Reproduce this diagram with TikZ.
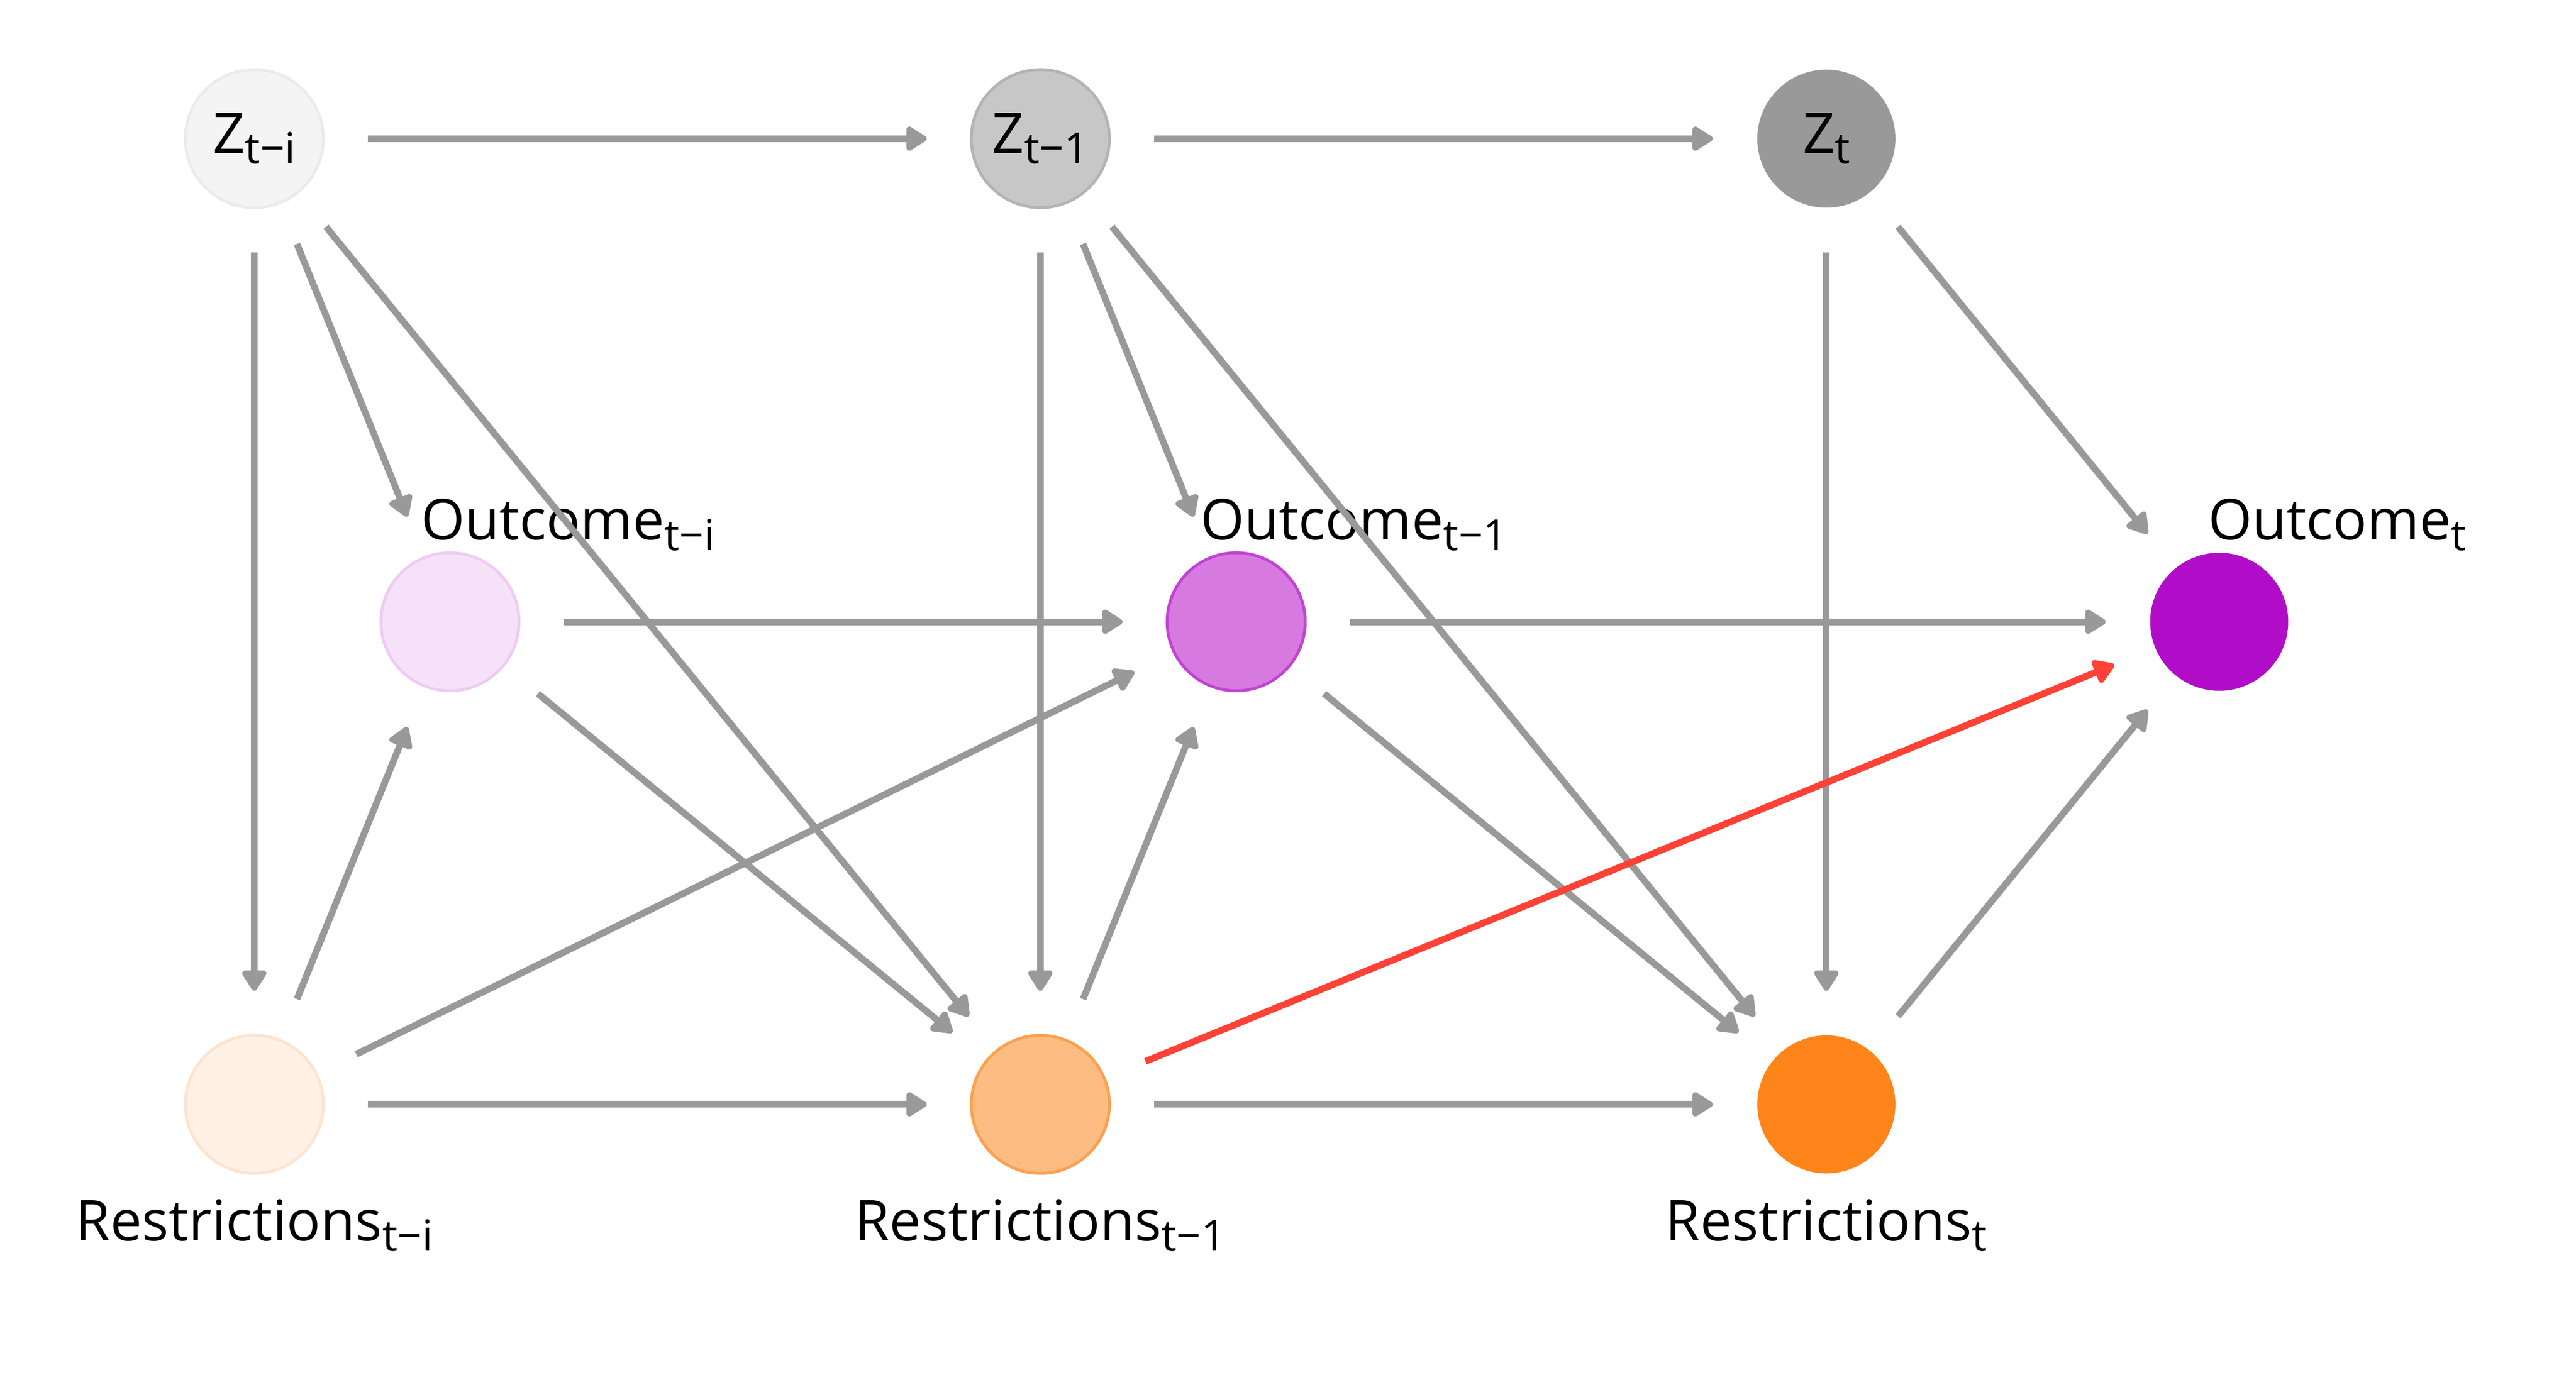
\documentclass[tikz,border=0pt]{standalone}
\usepackage{fontspec}
\setmainfont{Open Sans}
\usetikzlibrary{arrows.meta}

\definecolor{arrowgray}{HTML}{999999}
\definecolor{arrowred}{HTML}{FF4136}
\definecolor{zfill0}{HTML}{F4F4F4}
\definecolor{zdraw0}{HTML}{EBEBEB}
\definecolor{zfill1}{HTML}{C7C7C7}
\definecolor{zdraw1}{HTML}{B4B4B4}
\definecolor{zfill2}{HTML}{999999}
\definecolor{ofill0}{HTML}{F6E2F8}
\definecolor{odraw0}{HTML}{EFCBF3}
\definecolor{ofill1}{HTML}{D67AE0}
\definecolor{odraw1}{HTML}{C243D3}
\definecolor{ofill2}{HTML}{B10DC9}
\definecolor{rfill0}{HTML}{FFF1E5}
\definecolor{rdraw0}{HTML}{FEE4CE}
\definecolor{rfill1}{HTML}{FDBD82}
\definecolor{rdraw1}{HTML}{FDA050}
\definecolor{rfill2}{HTML}{FF851B}

\newcommand\idx[1]{\raisebox{-1.8pt}{\fontsize{7.4}{8}\selectfont #1}}

\begin{document}
\begin{tikzpicture}[->, >={Triangle[length=1.4mm, width=1.65mm, round]}, font=\fontsize{9.7}{11}\selectfont]
  \tikzstyle{var}=[circle, minimum size=8.36mm, inner sep=0pt, outer sep=2.7mm, line width=0.5pt]
  \tikzstyle{lbl}=[anchor=base, inner sep=0pt]
  \tikzstyle{every edge}=[draw, arrowgray, line width=1.15pt]

  \useasboundingbox (0,0) rectangle (15.6,8.357);

  % Variables
  \node[var, fill=zfill0, draw=zdraw0] (zi) at (1.54,7.517) {Z\idx{t−i}};
  \node[var, fill=zfill1, draw=zdraw1] (z1) at (6.30,7.517) {Z\idx{t−1}};
  \node[var, fill=zfill2] (zt) at (11.06,7.517) {Z\idx{t}};

  \node[var, fill=ofill0, draw=odraw0] (oi) at (2.725,4.591) {};
  \node[var, fill=ofill1, draw=odraw1] (o1) at (7.486,4.591) {};
  \node[var, fill=ofill2] (ot) at (13.439,4.591) {};

  \node[var, fill=rfill0, draw=rdraw0] (ri) at (1.54,1.668) {};
  \node[var, fill=rfill1, draw=rdraw1] (r1) at (6.30,1.668) {};
  \node[var, fill=rfill2] (rt) at (11.06,1.668) {};

  % Labels
  \node[lbl] (oi-lab) at (3.44,5.088) {Outcome\idx{t−i}};
  \node[lbl] (o1-lab) at (8.20,5.088) {Outcome\idx{t−1}};
  \node[lbl] (ot-lab) at (14.154,5.088) {Outcome\idx{t}};

  \node[lbl] (ri-lab) at (1.54,0.844) {Restrictions\idx{t−i}};
  \node[lbl] (r1-lab) at (6.30,0.844) {Restrictions\idx{t−1}};
  \node[lbl] (rt-lab) at (11.06,0.844) {Restrictions\idx{t}};

  % Effects
  \path (zi) edge (z1);
  \path (z1) edge (zt);
  \path (zi) edge (ri);
  \path (zi) edge (oi);
  \path (zi) edge (r1);
  \path (z1) edge (r1);
  \path (z1) edge (o1);
  \path (z1) edge (rt);
  \path (zt) edge (rt);
  \path (zt) edge (ot);

  \path (oi) edge (o1);
  \path (o1) edge (ot);
  \path (oi) edge (r1);
  \path (o1) edge (rt);

  \path (ri) edge (oi);
  \path (r1) edge (o1);
  \path (rt) edge (ot);
  \path (ri) edge (o1);
  \path (ri) edge (r1);
  \path (r1) edge (rt);

  \path (r1) edge[arrowred] (ot);

\end{tikzpicture}
\end{document}
